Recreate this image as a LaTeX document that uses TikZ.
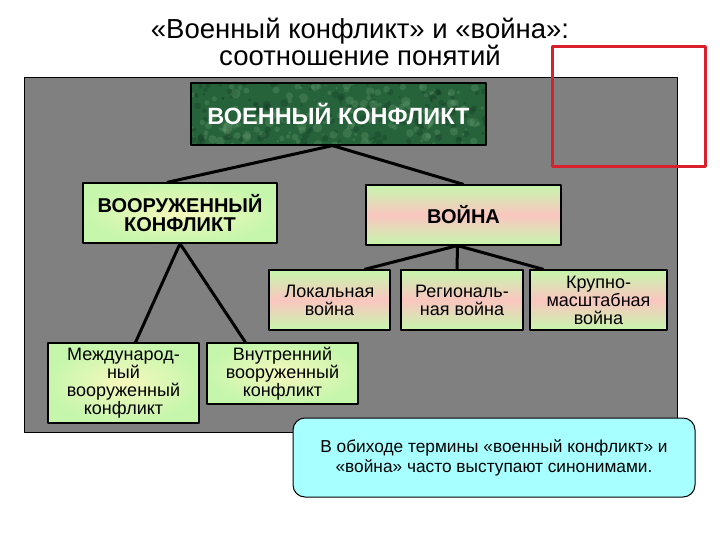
\documentclass[tikz,border=0pt]{standalone}
\usepackage{fontspec}
\setmainfont{Liberation Sans}
\usetikzlibrary{calc}

\definecolor{panelgray}{RGB}{128,128,128}
\definecolor{marble}{RGB}{38,98,58}
\definecolor{marblelight}{RGB}{105,160,115}
\definecolor{marbledark}{RGB}{18,58,34}
\definecolor{lgreen}{RGB}{198,246,172}
\definecolor{lyellow}{RGB}{246,248,188}
\definecolor{lpink}{RGB}{250,198,192}
\definecolor{notecyan}{RGB}{168,255,255}
\definecolor{framered}{RGB}{218,32,44}

\tikzset{
  title/.style={align=center, font=\fontsize{27.5}{25.5}\selectfont},
  box/.style={draw=black, line width=1.2pt, inner sep=2pt, align=center},
  topbox/.style={box, fill=marble, text=white, minimum width=295, minimum height=62,
    font=\fontsize{23.5}{26}\selectfont\bfseries},
  headbox/.style={box, minimum width=195, minimum height=60,
    font=\fontsize{20}{19}\selectfont\bfseries},
  yellowfill/.style={inner color=lyellow, outer color=lgreen},
  pinkfill/.style={top color=lgreen, bottom color=lgreen, middle color=lpink},
  subbox/.style={box, minimum height=60, font=\fontsize{18}{18}\selectfont},
  link/.style={line width=3pt},
  note/.style={draw=black, line width=1pt, fill=notecyan, rounded corners=12pt,
    minimum width=402, minimum height=79, align=center, font=\fontsize{17.3}{20}\selectfont},
}

\begin{document}
\begin{tikzpicture}[x=1pt, y=-1pt, line join=round]
  \useasboundingbox (0,0) rectangle (720,540);
  \node[title] (title) at (360,42) {«Военный конфликт» и «война»:\\соотношение понятий};
  % panel and frame
  \draw[fill=panelgray, line width=1pt] (24,78) rectangle (677,432);
  \draw[framered, line width=3pt] (552,47) rectangle (705,167);
  % boxes
  \pgfmathsetseed{7}
  \node[topbox, path picture={
      \foreach \k in {1,...,160}{
        \fill[marblelight, opacity=0.3] ($(path picture bounding box.north west)+(rnd*295,rnd*62)$) circle (rnd*4+1);
        \fill[marbledark, opacity=0.3] ($(path picture bounding box.north west)+(rnd*295,rnd*62)$) circle (rnd*3+1);
      }}] (voenkonf) at (338.5,114) {ВОЕННЫЙ КОНФЛИКТ};
  \node[headbox, yellowfill, minimum width=194] (vooruzh) at (180,213) {ВООРУЖЕННЫЙ\\КОНФЛИКТ};
  \node[headbox, pinkfill] (voina) at (463.5,215) {ВОЙНА};
  \node[subbox, pinkfill, minimum width=121] (lokal) at (329.5,300) {Локальная\\война};
  \node[subbox, pinkfill, minimum width=122] (region) at (462,300) {Региональ-\\ная война};
  \node[subbox, pinkfill, minimum width=137] (krupno) at (598.5,300) {Крупно-\\масштабная\\война};
  \node[subbox, yellowfill, minimum width=151, minimum height=80] (mezhdun) at (123.5,383) {Международ-\\ный\\вооруженный\\конфликт};
  \node[subbox, yellowfill, minimum width=151, minimum height=61] (vnutr) at (282.5,373.5) {Внутренний\\вооруженный\\конфликт};
  % links
  \draw[link] ([xshift=-13]vooruzh.north) -- ([xshift=-6]voenkonf.south) -- (voina.north);
  \draw[link] ([xshift=12]mezhdun.north) -- (vooruzh.south) -- ([xshift=-37]vnutr.north);
  \draw[link] ([xshift=35]lokal.north) -- ([xshift=-6]voina.south) -- ([xshift=-55]krupno.north);
  \draw[link] ([xshift=-6]voina.south) -- ([xshift=-5]region.north);
  % note
  \node[note] (remark) at (494,457.5) {В обиходе термины «военный конфликт» и\\«война» часто выступают синонимами.};
\end{tikzpicture}
\end{document}
